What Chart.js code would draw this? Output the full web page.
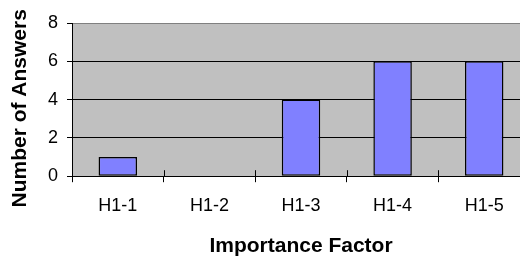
<!DOCTYPE html>
<html>
<head>
<meta charset="utf-8">
<script src="https://cdn.jsdelivr.net/npm/chart.js@4.4.1/dist/chart.umd.min.js"></script>
<style>
  html, body { margin: 0; padding: 0; background: #fff; overflow: hidden; }
  #wrap { position: relative; width: 520px; height: 259px; overflow: hidden; }
  #grafico { position: absolute; left: 0; top: 0; }
</style>
</head>
<body>
<div id="wrap"><canvas id="grafico" width="530" height="259"></canvas></div>
<script>
var categorias = ['H1-1', 'H1-2', 'H1-3', 'H1-4', 'H1-5'];
var respuestas = [1, 0, 4, 6, 6]; // Number of Answers
var ticksY = [0, 2, 4, 6, 8];

var fuente = "'Liberation Sans', Arial, sans-serif";

// fondo gris del area de trazado + marcas del eje X que cruzan el eje
var fondoGris = {
    id: 'fondoGris',
    beforeDraw: function (chart) {
        var a = chart.chartArea;
        var c = chart.ctx;
        c.save();
        c.fillStyle = '#C0C0C0';
        c.fillRect(a.left, a.top, a.right - a.left, a.bottom - a.top);
        c.restore();
    },
    afterDraw: function (chart) {
        var a = chart.chartArea;
        var x = chart.scales.x;
        var c = chart.ctx;
        c.save();
        c.strokeStyle = '#000000';
        c.lineWidth = 1;
        c.beginPath();
        for (var i = 0; i <= categorias.length; i++) {
            var px = Math.round(x.getPixelForValue(i - 0.5)) + 0.5;
            c.moveTo(px, a.bottom);
            c.lineTo(px, a.bottom - 6);
        }
        c.stroke();
        c.restore();
    }
};

var ctx = document.getElementById('grafico');

var myChart = new Chart(ctx, {
    type: 'bar',
    data: {
        labels: categorias,
        datasets: [{
            label: 'Number of Answers',
            data: respuestas,
            backgroundColor: '#8080FF',
            borderColor: '#000000',
            borderWidth: 1.5,
            borderSkipped: false,
            barPercentage: 0.42,
            categoryPercentage: 1.0
        }]
    },
    options: {
        responsive: false,
        animation: false,
        layout: {
            padding: { top: 23, right: 0, bottom: 0, left: 0 }
        },
        plugins: {
            legend: { display: false },
            tooltip: { enabled: false }
        },
        scales: {
            x: {
                grid: {
                    offset: true,
                    drawOnChartArea: false,
                    drawTicks: true,
                    tickLength: 6,
                    color: '#000000'
                },
                border: { color: '#000000', width: 1 },
                ticks: {
                    color: '#000000',
                    padding: 13,
                    font: { family: fuente, size: 18 }
                },
                title: {
                    display: true,
                    text: 'Importance Factor',
                    color: '#000000',
                    padding: { top: 4, bottom: 0 },
                    font: { family: fuente, size: 21, weight: 'bold' }
                }
            },
            y: {
                min: 0,
                max: 8,
                afterBuildTicks: function (scale) {
                    scale.ticks = ticksY.map(function (v) { return { value: v }; });
                },
                afterFit: function (scale) {
                    scale.width = 72;
                },
                grid: {
                    color: function (c) {
                        return c.tick && c.tick.value === 8 ? '#808080' : '#000000';
                    },
                    tickColor: '#000000',
                    tickLength: 5
                },
                border: { color: '#000000', width: 1 },
                ticks: {
                    color: '#000000',
                    padding: 9,
                    font: { family: fuente, size: 18 }
                },
                title: {
                    display: true,
                    text: 'Number of Answers   ',
                    color: '#000000',
                    padding: { top: 8, bottom: 0 },
                    font: { family: fuente, size: 21, weight: 'bold' }
                }
            }
        }
    },
    plugins: [fondoGris]
});
</script>
</body>
</html>
